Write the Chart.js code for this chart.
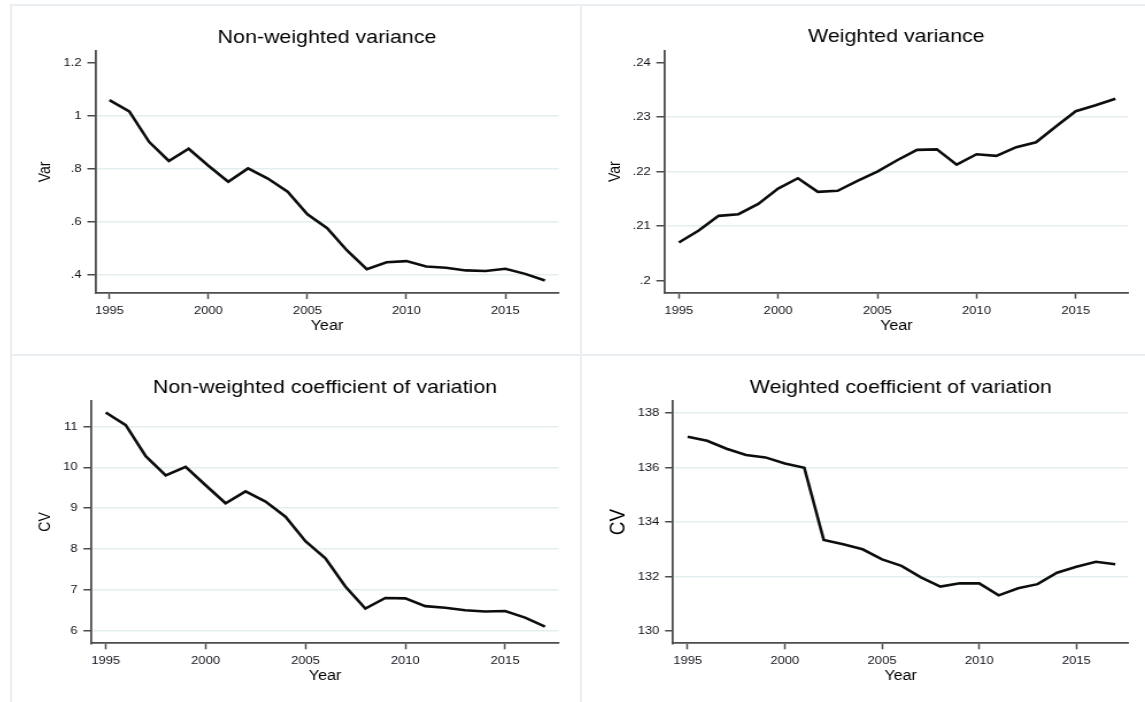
<!DOCTYPE html>
<html>
<head>
<meta charset="utf-8">
<script src="https://cdn.jsdelivr.net/npm/chart.js@4/dist/chart.umd.min.js"></script>
<style>
  body { margin: 0; background: #fff; width: 1145px; height: 702px; overflow: hidden; position: relative; }
  .rule { position: absolute; background: #e8eef1; }
  .panel { position: absolute; transform-origin: 0 0; }
</style>
</head>
<body>
<div class="rule" style="left:10px;top:4px;width:2px;height:698px"></div>
<div class="rule" style="left:580px;top:4px;width:2px;height:698px"></div>
<div class="rule" style="left:10px;top:4px;width:1135px;height:2px"></div>
<div class="rule" style="left:10px;top:354px;width:1135px;height:2px"></div>

<div class="panel" id="p1"><canvas></canvas></div>
<div class="panel" id="p2"><canvas></canvas></div>
<div class="panel" id="p3"><canvas></canvas></div>
<div class="panel" id="p4"><canvas></canvas></div>

<script>
// yearly series, 1995-2017
const years = [1995, 1996, 1997, 1998, 1999, 2000, 2001, 2002, 2003, 2004, 2005, 2006,
	2007, 2008, 2009, 2010, 2011, 2012, 2013, 2014, 2015, 2016, 2017];

const varNonWeighted = [1.059, 1.017, 0.902, 0.830, 0.876, 0.812, 0.752, 0.802, 0.764, 0.714, 0.629, 0.577,
	0.493, 0.423, 0.449, 0.453, 0.433, 0.428, 0.418, 0.416, 0.424, 0.405, 0.380];
const varWeighted = [0.2070, 0.2092, 0.2119, 0.2122, 0.2141, 0.2169, 0.2188, 0.2163, 0.2165, 0.2183, 0.2200, 0.2221,
	0.2240, 0.2241, 0.2213, 0.2232, 0.2229, 0.2245, 0.2254, 0.2283, 0.2311, 0.2322, 0.2334];
const cvNonWeighted = [11.34, 11.03, 10.27, 9.80, 10.01, 9.56, 9.12, 9.41, 9.16, 8.79, 8.19, 7.77,
	7.08, 6.54, 6.80, 6.79, 6.60, 6.56, 6.50, 6.47, 6.48, 6.32, 6.10];
const cvWeighted = [137.13, 136.98, 136.69, 136.46, 136.37, 136.15, 135.99, 133.34, 133.18, 133.00, 132.63, 132.39,
	131.97, 131.63, 131.75, 131.75, 131.31, 131.57, 131.72, 132.14, 132.36, 132.54, 132.45];

// axis ticks
const yearTicks = [1995, 2000, 2005, 2010, 2015];
const varNWTicks = [0.4, 0.6, 0.8, 1, 1.2];
const varNWLabels = ['.4', '.6', '.8', '1', '1.2'];
const varWTicks = [0.2, 0.21, 0.22, 0.23, 0.24];
const varWLabels = ['.2', '.21', '.22', '.23', '.24'];
const cvNWTicks = [6, 7, 8, 9, 10, 11];
const cvNWLabels = ['6', '7', '8', '9', '10', '11'];
const cvWTicks = [130, 132, 134, 136, 138];
const cvWLabels = ['130', '132', '134', '136', '138'];

// text is drawn a little wide, like the stata export
const STRETCH = 1.15;
const FONT = '"Liberation Sans", Arial, Helvetica, sans-serif';
Chart.defaults.font.family = FONT;

const panels = [
	{
		id: 'p1', title: 'Non-weighted variance', yTitle: 'Var', yTitleSize: 14,
		values: varNonWeighted, ticks: varNWTicks, labels: varNWLabels, grid: [0.4, 0.6, 0.8, 1],
		yMin: 0.333, yMax: 1.244, xMin: 1994.29, xMax: 2017.69,
		box: { left: 12, top: 6, width: 568, height: 348 },
		area: { left: 95.4, right: 558.6, top: 51, bottom: 293 },
		titleY: 38, yTitleX: 46, xTitleY: 326
	},
	{
		id: 'p2', title: 'Weighted variance', yTitle: 'Var', yTitleSize: 14,
		values: varWeighted, ticks: varWTicks, labels: varWLabels, grid: [0.21, 0.22, 0.23],
		yMin: 0.1978, yMax: 0.2422, xMin: 1994.27, xMax: 2017.65,
		box: { left: 582, top: 6, width: 563, height: 348 },
		area: { left: 664.4, right: 1128.3, top: 50.7, bottom: 292.7 },
		titleY: 37, yTitleX: 616, xTitleY: 326
	},
	{
		id: 'p3', title: 'Non-weighted coefficient of variation', yTitle: 'CV', yTitleSize: 14,
		values: cvNonWeighted, ticks: cvNWTicks, labels: cvNWLabels, grid: [6, 7, 8, 9, 10, 11],
		yMin: 5.69, yMax: 11.63, xMin: 1994.28, xMax: 2017.68,
		box: { left: 12, top: 356, width: 568, height: 346 },
		area: { left: 91.4, right: 558.6, top: 400.7, bottom: 643.3 },
		titleY: 387.5, yTitleX: 46, xTitleY: 676
	},
	{
		id: 'p4', title: 'Weighted coefficient of variation', yTitle: 'CV', yTitleSize: 19,
		values: cvWeighted, ticks: cvWTicks, labels: cvWLabels, grid: [132, 134, 136, 138],
		yMin: 129.55, yMax: 138.45, xMin: 1994.25, xMax: 2017.67,
		box: { left: 582, top: 356, width: 563, height: 346 },
		area: { left: 673.1, right: 1128.3, top: 400.7, bottom: 643.3 },
		titleY: 387.5, yTitleX: 618, xTitleY: 676
	}
];

function makeChart(p) {
	let wrap = document.getElementById(p.id);
	let cw = Math.round(p.box.width / STRETCH);
	let sx = p.box.width / cw;
	wrap.style.left = p.box.left + 'px';
	wrap.style.top = p.box.top + 'px';
	wrap.style.width = cw + 'px';
	wrap.style.height = p.box.height + 'px';
	wrap.style.transform = `scaleX(${sx})`;

	let toC = x => (x - p.box.left) / sx;

	let titleSize = 18.6, titleLH = titleSize * 1.2;
	let titleTop = p.titleY - p.box.top - titleLH / 2;
	let titleBottom = (p.area.top - p.box.top) - titleTop - titleLH;

	let yAxisW = toC(p.area.left);
	let padRight = cw - toC(p.area.right);
	let xAxisH = p.box.top + p.box.height - p.area.bottom;

	let yTitlePad = toC(p.yTitleX) - p.yTitleSize * 1.2 / 2;
	let xTitleSize = 14;
	let xTitlePad = (p.box.top + p.box.height - p.xTitleY) - xTitleSize * 1.2 / 2;

	let axisColor = '#4d4d4d';
	let textColor = '#000';
	let tickFont = { family: FONT, size: 11.3 };

	new Chart(wrap.querySelector('canvas').getContext('2d'), {
		type: 'line',
		data: {
			datasets: [{
				data: years.map((x, i) => ({ x: x, y: p.values[i] })),
				borderColor: '#0d0d0d',
				borderWidth: 2.6,
				pointRadius: 0,
				tension: 0,
				fill: false
			}]
		},
		options: {
			responsive: true,
			maintainAspectRatio: false,
			animation: false,
			devicePixelRatio: 1,
			layout: { padding: { left: 0, right: padRight, top: 0, bottom: 0 } },
			plugins: {
				legend: { display: false },
				tooltip: { enabled: false },
				title: {
					display: true,
					text: p.title,
					fullSize: false,
					color: textColor,
					font: { family: FONT, size: titleSize, weight: 'normal' },
					padding: { top: titleTop, bottom: titleBottom }
				}
			},
			scales: {
				x: {
					type: 'linear',
					min: p.xMin,
					max: p.xMax,
					afterBuildTicks: s => { s.ticks = yearTicks.map(v => ({ value: v })); },
					afterFit: s => { s.height = xAxisH; },
					grid: { drawOnChartArea: false, drawTicks: true, tickLength: 6, tickColor: axisColor, tickWidth: 1.5 },
					border: { color: axisColor, width: 1.8 },
					ticks: {
						color: '#12121c', font: tickFont, padding: 5,
						maxRotation: 0, autoSkip: false,
						callback: v => String(v)
					},
					title: {
						display: true, text: 'Year', color: textColor,
						font: { family: FONT, size: xTitleSize },
						padding: { top: 0, bottom: xTitlePad }
					}
				},
				y: {
					type: 'linear',
					min: p.yMin,
					max: p.yMax,
					afterBuildTicks: s => { s.ticks = p.ticks.map(v => ({ value: v })); },
					afterFit: s => { s.width = yAxisW; },
					grid: {
						color: ctx => (ctx.tick && p.grid.includes(ctx.tick.value)) ? '#e4edf0' : 'rgba(0,0,0,0)',
						lineWidth: 1.5,
						tickLength: 7,
						tickColor: axisColor,
						tickWidth: 1.5
					},
					border: { color: axisColor, width: 1.8 },
					ticks: {
						color: '#12121c', font: tickFont, padding: 5,
						autoSkip: false,
						callback: (v, i) => p.labels[i]
					},
					title: {
						display: true, text: p.yTitle, color: textColor,
						font: { family: FONT, size: p.yTitleSize },
						padding: { top: yTitlePad, bottom: 0 }
					}
				}
			}
		}
	});
}

window.addEventListener('load', function() {
	panels.forEach(makeChart);
});
</script>
</body>
</html>
